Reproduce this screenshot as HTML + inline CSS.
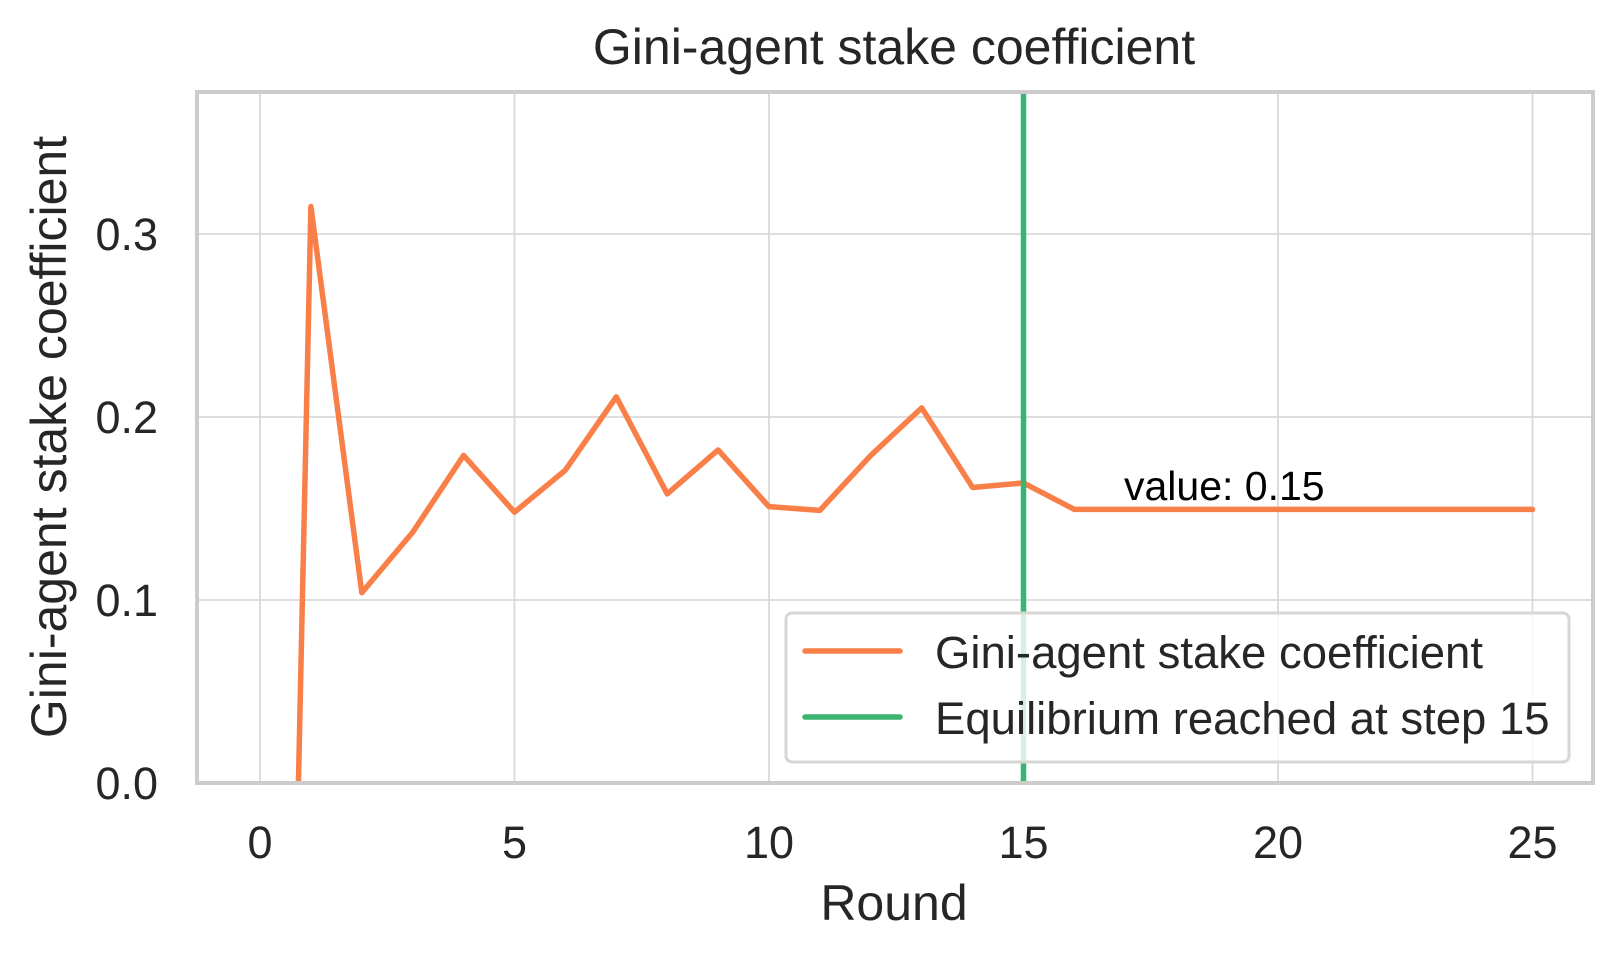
<!DOCTYPE html>
<html><head><meta charset="utf-8"><style>
html,body{margin:0;padding:0;background:#fff;overflow:hidden;width:1622px;height:959px;}
svg{display:block;font-family:"Liberation Sans",Arial,sans-serif;}
</style></head><body>
<svg id="chart" width="1622" height="959" viewBox="0 0 1622 959">
<rect x="0" y="0" width="1622" height="959" fill="#fff"/>
<g id="grid"></g>
<g id="ticks"></g>
<defs><clipPath id="plotclip"><rect x="197" y="92" width="1396" height="691"/></clipPath></defs>
<g id="series" clip-path="url(#plotclip)"></g>
<rect x="197" y="92" width="1396" height="691" fill="none" stroke="#cccccc" stroke-width="4"/>
<text x="894" y="64" font-size="50" fill="#262626" text-anchor="middle">Gini-agent stake coefficient</text>
<text x="894" y="920" font-size="50" fill="#262626" text-anchor="middle">Round</text>
<text transform="translate(66,437) rotate(-90)" font-size="50" fill="#262626" text-anchor="middle">Gini-agent stake coefficient</text>
<text id="annot" x="1124" y="500" font-size="41" fill="#000">value: 0.15</text>
<g>
<rect x="786" y="613" width="783" height="149" rx="6" fill="#fff" fill-opacity="0.8" stroke="#d6d6d6" stroke-width="3"/>
<line x1="805" y1="651" x2="900" y2="651" stroke="#f97f49" stroke-width="5.5" stroke-linecap="round"/>
<text x="935" y="668" font-size="45.5" fill="#262626">Gini-agent stake coefficient</text>
<line x1="805" y1="717" x2="900" y2="717" stroke="#3cb371" stroke-width="5.5" stroke-linecap="round"/>
<text x="935" y="734" font-size="45.5" fill="#262626">Equilibrium reached at step 15</text>
</g>
</svg>
<script>
const rounds = [0,1,2,3,4,5,6,7,8,9,10,11,12,13,14,15,16,17,18,19,20,21,22,23,24,25];
const giniValues = [-0.97,0.315,0.104,0.137,0.179,0.148,0.171,0.211,0.158,0.182,0.151,0.149,0.179,0.205,0.1615,0.164,0.1495,0.1495,0.1495,0.1495,0.1495,0.1495,0.1495,0.1495,0.1495,0.1495];
const equilibriumStep = [15];
const xTicks = [0,5,10,15,20,25];
const yTicks = [0.0,0.1,0.2,0.3];
const yTickLabels = ["0.0","0.1","0.2","0.3"];
const annotationValue = [0.15];

const X0=260, XS=50.9, Y0=783, YS=1830, TOP=92, BOT=783, LEFT=197, RIGHT=1593;
const sx = v => X0 + v*XS;
const sy = v => Y0 - v*YS;
const NS="http://www.w3.org/2000/svg";
const grid=document.getElementById('grid'), ticks=document.getElementById('ticks'), series=document.getElementById('series');

xTicks.forEach(t=>{
  const l=document.createElementNS(NS,'line');
  l.setAttribute('x1',sx(t));l.setAttribute('x2',sx(t));l.setAttribute('y1',TOP);l.setAttribute('y2',BOT);
  l.setAttribute('stroke','#d9d9d9');l.setAttribute('stroke-width','1.8');
  
  
  grid.appendChild(l);
  const tx=document.createElementNS(NS,'text');
  tx.setAttribute('x',sx(t));tx.setAttribute('y',858);tx.setAttribute('font-size','45');tx.setAttribute('fill','#262626');tx.setAttribute('text-anchor','middle');
  tx.textContent=t;
  
  
  ticks.appendChild(tx);
});
yTicks.forEach((t,i)=>{
  const l=document.createElementNS(NS,'line');
  l.setAttribute('x1',LEFT);l.setAttribute('x2',RIGHT);l.setAttribute('y1',sy(t));l.setAttribute('y2',sy(t));
  l.setAttribute('stroke','#d9d9d9');l.setAttribute('stroke-width','1.8');
  
  
  grid.appendChild(l);
  const tx=document.createElementNS(NS,'text');
  tx.setAttribute('x',158);tx.setAttribute('y',sy(t)+16);tx.setAttribute('font-size','45');tx.setAttribute('fill','#262626');tx.setAttribute('text-anchor','end');
  tx.textContent=yTickLabels[i];
  
  
  ticks.appendChild(tx);
});
const p=document.createElementNS(NS,'polyline');
p.setAttribute('points',rounds.map((r,i)=>sx(r)+','+sy(giniValues[i])).join(' '));
p.setAttribute('fill','none');p.setAttribute('stroke','#f97f49');p.setAttribute('stroke-width','5.5');p.setAttribute('stroke-linejoin','round');p.setAttribute('stroke-linecap','round');


series.appendChild(p);
equilibriumStep.forEach(s=>{
  const v=document.createElementNS(NS,'line');
  v.setAttribute('x1',sx(s));v.setAttribute('x2',sx(s));v.setAttribute('y1',TOP);v.setAttribute('y2',BOT);
  v.setAttribute('stroke','#3cb371');v.setAttribute('stroke-width','5.5');
  
  
  series.appendChild(v);
});
document.getElementById('annot').textContent='value: '+annotationValue[0].toFixed(2);
</script>
</body></html>
